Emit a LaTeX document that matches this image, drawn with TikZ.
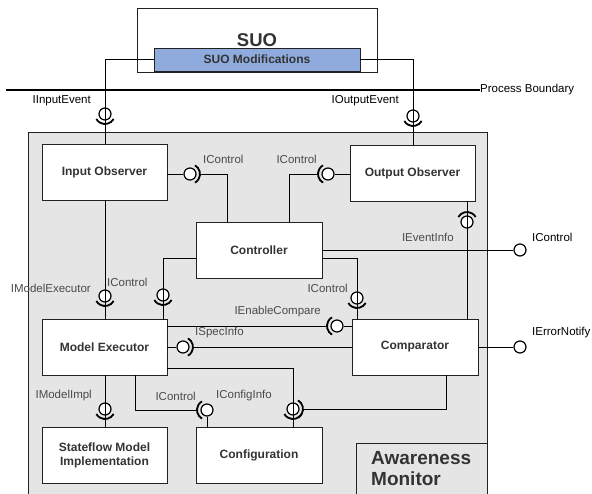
\documentclass[tikz,border=0pt]{standalone}
\usepackage{fontspec}
\setmainfont{Liberation Sans}
\usetikzlibrary{calc}
\definecolor{amgray}{HTML}{E5E5E5}
\definecolor{suoblue}{HTML}{8FAADC}
\definecolor{txtdark}{HTML}{333333}
\definecolor{lbl}{HTML}{4A4A4A}
\definecolor{edge}{HTML}{222222}
\tikzset{
  comp/.style={draw=edge, line width=0.9pt, fill=white, rectangle, inner sep=0pt,
    minimum width=125pt, minimum height=56pt, align=center, text=txtdark,
    font=\fontsize{12}{14}\selectfont\bfseries},
  ball/.style={draw=black, line width=1.2pt, fill=white, circle, inner sep=0pt, minimum size=12pt},
  sockstyle/.style={draw=black, line width=1.8pt},
  wire/.style={draw=black, line width=1pt},
  ilbl/.style={text=lbl, inner sep=0pt, font=\fontsize{11.5}{13}\selectfont},
  xlbl/.style={text=black, inner sep=0pt, font=\fontsize{11.5}{13}\selectfont},
}
\newcommand\mysock[3]{\draw[sockstyle] ($(#1)+(#2-60:10)$) arc[start angle=#2-60, end angle=#2+60, radius=10];
  \coordinate (#1-#3) at ($(#1)+(#2:10)$);}
\begin{document}
\begin{tikzpicture}[x=1pt, y=-1pt]
\useasboundingbox (0,0) rectangle (592,493);
\clip (0,0) rectangle (592,493);
% Awareness Monitor container
\draw[draw=edge, line width=0.9pt, fill=amgray] (28,132) rectangle (487,510);
\draw[draw=edge, line width=0.9pt, fill=amgray] (356,443) rectangle (487,510);
\node[anchor=west, inner sep=0pt, align=left, text=txtdark, font=\fontsize{19}{21}\selectfont\bfseries] (amlabel) at (371,469) {Awareness\\Monitor};
% SUO
\draw[draw=edge, line width=0.9pt, fill=white] (137,8) rectangle (377,72);
\node[text=txtdark, inner sep=0pt, font=\fontsize{18.5}{20}\selectfont\bfseries] (suo) at (257,40) {SUO};
\node[draw=edge, line width=0.9pt, fill=suoblue, minimum width=206pt, minimum height=23pt, inner sep=0pt,
  text=txtdark, font=\fontsize{12}{14}\selectfont\bfseries] (suomod) at (257,59.5) {SUO Modifications};
\draw[edge, line width=1.8pt] (suomod.south west) -- (suomod.south east);
% Process boundary
\coordinate (pbL) at (6,89.5);
\coordinate (pbR) at (480,89.5);
\draw[black, line width=2pt] (pbL) -- (pbR);
\node[xlbl, anchor=west] (pblabel) at (pbR) {Process Boundary};
% Components
\node[comp] (inobs) at (104.5,172) {Input Observer};
\node[comp] (outobs) at (412.5,173) {Output Observer};
\node[comp, minimum width=126pt] (ctrl) at (259,250) {Controller};
\node[comp] (modex) at (104.5,347) {Model Executor};
\node[comp, minimum width=126pt] (cmp) at (415,347) {Comparator};
\node[comp] (sf) at (104.5,455) {Stateflow Model\\Implementation};
\node[comp, minimum width=126pt] (config) at (259,455) {Configuration};
% Balls
\node[ball] (b1) at (105,114) {};
\node[ball] (b2) at (413,116) {};
\node[ball] (b3) at (190,174) {};
\node[ball] (b4) at (328,174) {};
\node[ball] (b5) at (105,296) {};
\node[ball] (b6) at (163,295) {};
\node[ball] (b7) at (520,250) {};
\node[ball] (b8) at (357,298) {};
\node[ball] (b9) at (467,222) {};
\node[ball] (b10) at (337,326) {};
\node[ball] (b11) at (183,347) {};
\node[ball] (b12) at (520,347) {};
\node[ball] (b13) at (105,409) {};
\node[ball] (b14) at (207,410) {};
\node[ball] (b15) at (293,409) {};
% Sockets
\mysock{b1}{90}{s}
\mysock{b2}{90}{s}
\mysock{b3}{0}{s}
\mysock{b4}{180}{s}
\mysock{b5}{90}{s}
\mysock{b6}{90}{s}
\mysock{b8}{90}{s}
\mysock{b9}{270}{s}
\mysock{b10}{180}{s}
\mysock{b11}{0}{s}
\mysock{b13}{90}{s}
\mysock{b14}{180}{s}
\mysock{b15}{90}{s}
\mysock{b15}{0}{r}
% Connectors
\draw[wire] (suomod.west) -| (b1-s);
\draw[wire] (b1.south) -- (b1 |- inobs.north);
\draw[wire] (suomod.east) -| (b2-s);
\draw[wire] (b2.south) -- (b2 |- outobs.north);
\draw[wire] (inobs.east |- b3) -- (b3.west);
\draw[wire] (b3-s) -| ($(ctrl.north west)+(32,0)$);
\draw[wire] (outobs.west |- b4) -- (b4.east);
\draw[wire] (b4-s) -| ($(ctrl.north west)+(94,0)$);
\draw[wire] (b5 |- inobs.south) -- (b5-s);
\draw[wire] (b5.south) -- (b5 |- modex.north);
\draw[wire] ($(ctrl.south west)+(0,-20)$) -| (b6-s);
\draw[wire] (b6.south) -- (b6 |- modex.north);
\draw[wire] (ctrl.east) -- (b7.west);
\draw[wire] ($(ctrl.south east)+(0,-20)$) -| (b8-s);
\draw[wire] (b8.south) -- (b8 |- cmp.north);
\draw[wire] (b9 |- outobs.south) -- (b9.north);
\draw[wire] (b9-s) -- (b9 |- cmp.north);
\draw[wire] (modex.east |- b10) -- (b10-s);
\draw[wire] (b10.east) -- (cmp.west |- b10);
\draw[wire] (modex.east |- b11) -- (b11.west);
\draw[wire] (b11-s) -- (cmp.west |- b11);
\draw[wire] (cmp.east) -- (b12.west);
\draw[wire] (b13 |- modex.south) -- (b13-s);
\draw[wire] (b13.south) -- (b13 |- sf.north);
\draw[wire] ($(modex.south west)+(94,0)$) |- (b14-s);
\draw[wire] (b14.south) -- (b14 |- config.north);
\draw[wire] ($(modex.south east)+(0,-7)$) -| (b15-s);
\draw[wire] ($(cmp.south west)+(95,0)$) |- (b15-r);
\draw[wire] (b15.south) -- (b15 |- config.north);
% Labels
\node[xlbl, anchor=east] (l1) at (91,101) {IInputEvent};
\node[xlbl, anchor=east] (l2) at (399,101) {IOutputEvent};
\node[ilbl, anchor=west] (l3) at (203,159) {IControl};
\node[ilbl, anchor=east] (l4) at (317,159) {IControl};
\node[ilbl, anchor=east] (l5) at (91,288) {IModelExecutor};
\node[ilbl, anchor=west] (l6) at (107,282) {IControl};
\node[xlbl, anchor=west] (l7) at (532,237) {IControl};
\node[ilbl, anchor=east] (l8) at (348,288) {IControl};
\node[ilbl, anchor=east] (l9) at (454,237) {IEventInfo};
\node[ilbl, anchor=east] (l10) at (321,312) {IEnableCompare};
\node[ilbl, anchor=west] (l11) at (195,333) {ISpecInfo};
\node[xlbl, anchor=west] (l12) at (532,333) {IErrorNotify};
\node[ilbl, anchor=east] (l13) at (92,396) {IModelImpl};
\node[ilbl, anchor=east] (l14) at (196,396) {IControl};
\node[ilbl, anchor=east] (l15) at (272,396) {IConfigInfo};
\end{tikzpicture}
\end{document}
